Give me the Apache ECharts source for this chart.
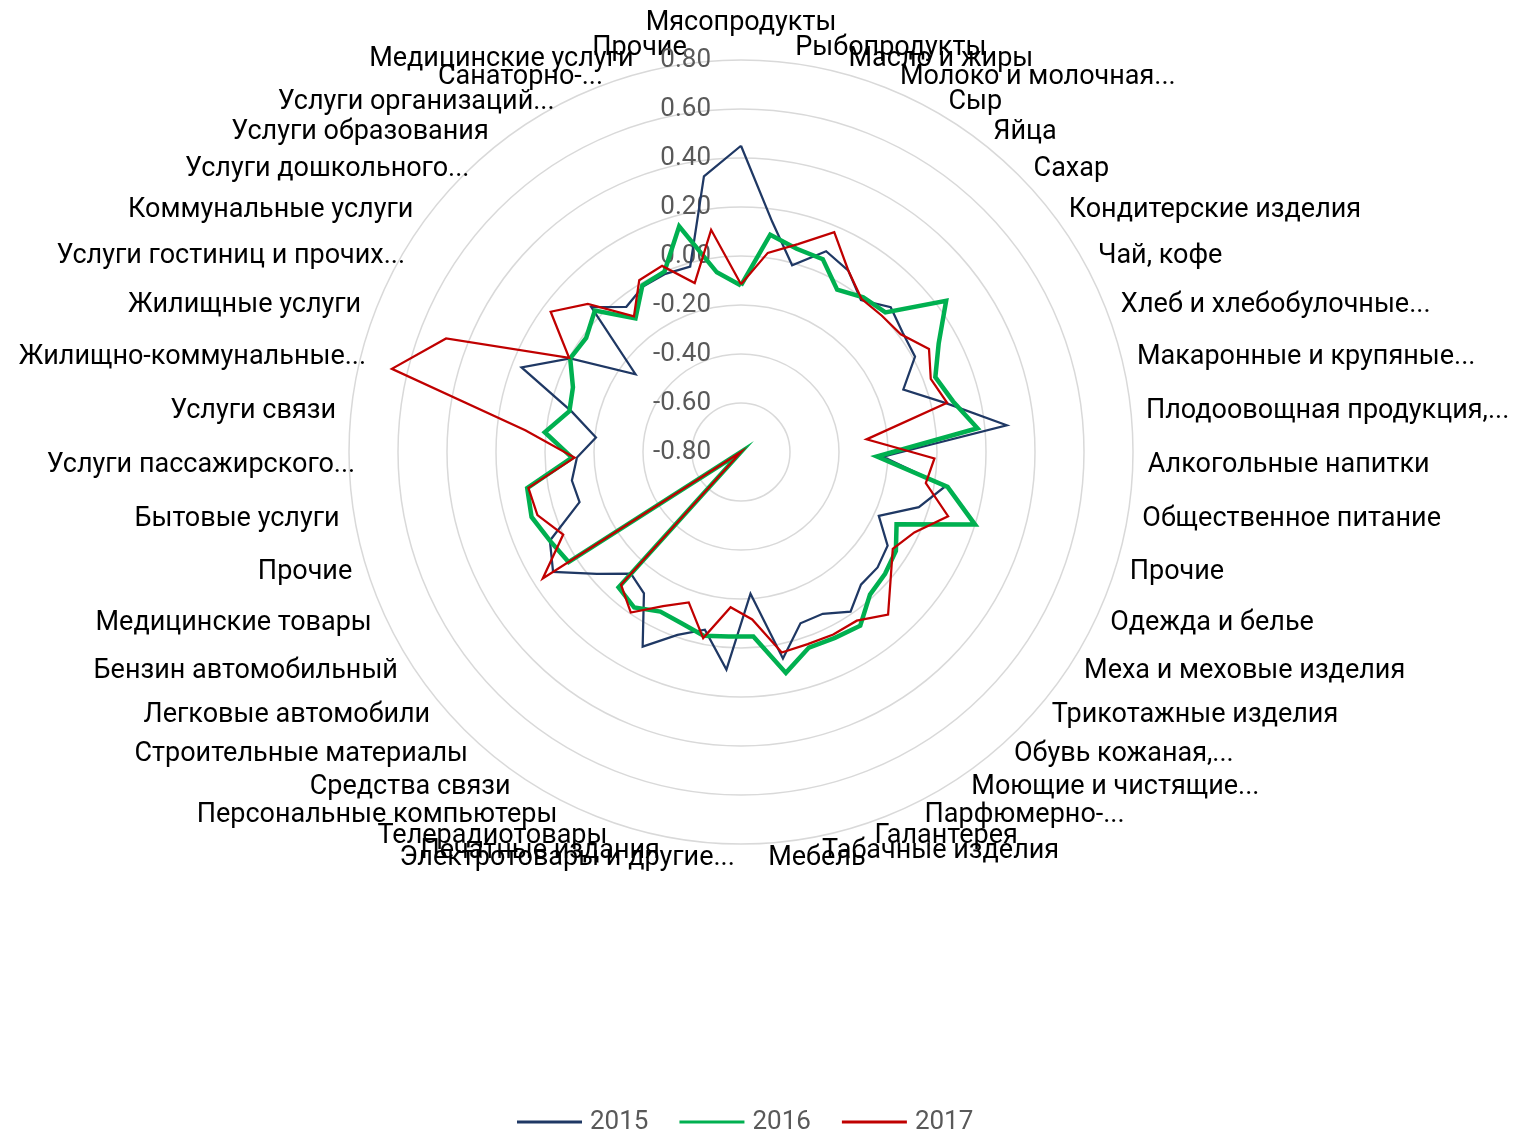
<!DOCTYPE html>
<html><head><meta charset="utf-8">
<script src="https://cdn.jsdelivr.net/npm/echarts@6.0.0/dist/echarts.min.js"></script>
<style>html,body{margin:0;padding:0;background:#fff}#c{width:1524px;height:1131px}</style>
</head><body><div id="c"></div>
<script>
const categories = [
  "Мясопродукты","Рыбопродукты","Масло и жиры","Молоко и молочная...","Сыр","Яйца","Сахар",
  "Кондитерские изделия","Чай, кофе","Хлеб и хлебобулочные...","Макаронные и крупяные...",
  "Плодоовощная продукция,...","Алкогольные напитки","Общественное питание","Прочие",
  "Одежда и белье","Меха и меховые изделия","Трикотажные изделия","Обувь кожаная,...",
  "Моющие и чистящие...","Парфюмерно-...","Галантерея","Табачные изделия","Мебель",
  "Электротовары и другие...","Печатные издания","Телерадиотовары","Персональные компьютеры",
  "Средства связи","Строительные материалы","Легковые автомобили","Бензин автомобильный",
  "Медицинские товары","Прочие","Бытовые услуги","Услуги пассажирского...","Услуги связи",
  "Жилищно-коммунальные...","Жилищные услуги","Услуги гостиниц и прочих...","Коммунальные услуги",
  "Услуги дошкольного...","Услуги образования","Услуги организаций...","Санаторно-...",
  "Медицинские услуги","Прочие"
];
const seriesNames = ["2015", "2016", "2017"];
const v2015 = [0.45,0.15,-0.01,0.09,0.06,-0.01,0.05,0.02,0.01,-0.09,0.06,0.29,-0.22,0.045,-0.04,-0.18,-0.09,-0.07,-0.07,-0.01,-0.06,-0.06,0.06,-0.22,0.09,-0.06,-0.01,0.09,-0.10,-0.13,-0.03,0.11,0.06,-0.11,-0.10,-0.13,-0.205,-0.09,0.16,-0.005,-0.265,0.05,-0.045,-0.015,-0.01,-0.015,0.335];
const v2016 = [-0.12,0.095,0.06,0.055,-0.03,0.005,0.02,0.24,0.12,0.05,0.09,0.17,-0.245,0.055,0.20,-0.10,-0.05,-0.03,-0.015,0.06,0.05,0.045,0.12,-0.045,-0.045,-0.035,-0.06,-0.07,-0.03,-0.055,-0.80,0.035,0.06,0.095,0.085,-0.11,0.005,-0.08,-0.065,-0.005,-0.015,0.03,-0.105,-0.01,0.0,0.155,-0.06];
const v2017 = [-0.115,0.02,0.08,0.175,0.06,-0.005,0.0,0.01,0.075,0.03,0.065,-0.285,-0.01,-0.035,0.085,-0.02,-0.065,0.0,0.095,0.035,0.035,0.03,0.035,-0.115,-0.165,-0.025,-0.15,-0.095,-0.005,-0.07,-0.80,0.16,0.0,0.07,0.08,-0.12,0.085,0.665,0.49,0.0,0.165,0.07,-0.095,0.015,0.025,-0.085,0.115];
const axisMin = -0.8, axisMax = 0.8, axisStep = 0.2;

// ECharts radar runs counter-clockwise; reorder so categories run clockwise from the top
const order = [0].concat(categories.map((_, i) => i).slice(1).reverse());
const pick = arr => order.map(i => arr[i]);

const colors = ['#1F3864', '#00B050', '#C00000'];
const widths = [2.25, 4.5, 2.25];
const values = [v2015, v2016, v2017];

const nameFont = 27, nameFamily = 'Roboto';
const half = Math.ceil(categories.length / 2);
// truncated names on the left half sit a little further right in the original (wider text box)
const ctx = document.createElement('canvas').getContext('2d');
ctx.font = nameFont + 'px ' + nameFamily;
const rich = {
  top: {fontSize: nameFont, fontFamily: nameFamily, color: '#000', padding: [0, 0, 8, 0]}
};
const indicators = order.map(i => ({name: categories[i], min: axisMin, max: axisMax, idx: i}));
indicators.forEach(ind => {
  const i = ind.idx;
  if (i >= half && categories[i].endsWith('...')) {
    const w = ctx.measureText(categories[i]).width;
    rich['s' + i] = {fontSize: nameFont, fontFamily: nameFamily, color: '#000', width: Math.max(1, w - 21), align: 'left'};
  }
});

const chart = echarts.init(document.getElementById('c'), null, {renderer: 'canvas'});
chart.setOption({
  backgroundColor: '#fff',
  animation: false,
  textStyle: {fontFamily: 'Roboto'},
  legend: {
    data: seriesNames, left: 512, top: 1104, itemWidth: 65, itemHeight: 3, itemGap: 31, icon: 'rect',
    textStyle: {color: '#595959', fontSize: 26, fontFamily: 'Roboto', padding: [0, 0, 0, 3]}
  },
  grid: {left: 741, top: 60, height: 392, width: 1},
  xAxis: {type: 'value', show: false},
  yAxis: {
    type: 'value', min: axisMin, max: axisMax, interval: axisStep,
    axisLine: {show: false}, axisTick: {show: false}, splitLine: {show: false},
    axisLabel: {
      formatter: v => (Math.abs(v) < 1e-9 ? 0 : v).toFixed(2),
      color: '#595959', fontSize: 26, margin: 30, fontFamily: 'Roboto'
    }
  },
  radar: {
    center: [741, 452],
    radius: 392,
    startAngle: 90,
    splitNumber: 8,
    shape: 'circle',
    nameGap: 15,
    indicator: indicators,
    axisName: {
      color: '#000', fontSize: nameFont, fontFamily: nameFamily, rich: rich,
      formatter: (name, ind) => {
        if (ind && ind.idx === 0) return '{top|' + name + '}';
        if (ind && rich['s' + ind.idx]) return '{s' + ind.idx + '|' + name + '}';
        return name;
      }
    },
    splitLine: {lineStyle: {color: '#D9D9D9', width: 1.5}},
    splitArea: {show: false},
    axisLine: {show: false},
    axisTick: {show: false},
    axisLabel: {show: false}
  },
  series: [{
    type: 'radar',
    symbol: 'none',
    data: seriesNames.map((n, k) => ({
      name: n,
      value: pick(values[k]),
      symbol: 'none',
      itemStyle: {color: colors[k]},
      lineStyle: {color: colors[k], width: widths[k], join: 'miter'}
    }))
  }]
});
</script></body></html>
